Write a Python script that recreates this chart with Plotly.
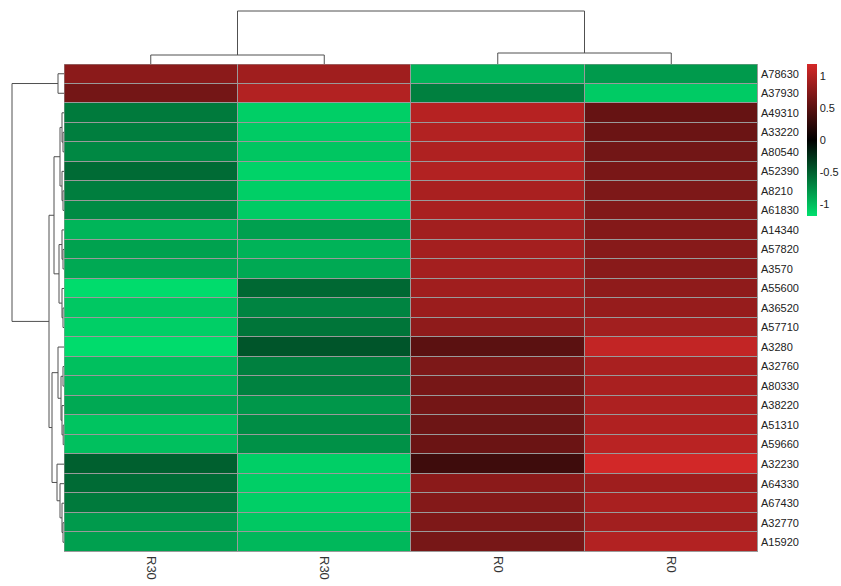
import plotly.graph_objects as go

# ---------------- data ----------------
row_labels = ["A78630", "A37930", "A49310", "A33220", "A80540", "A52390", "A8210",
              "A61830", "A14340", "A57820", "A3570", "A55600", "A36520", "A57710",
              "A3280", "A32760", "A80330", "A38220", "A51310", "A59660", "A32230",
              "A64330", "A67430", "A32770", "A15920"]
col_labels = ["R30", "R30", "R0", "R0"]

r30_a = [0.78, 0.65, -0.65, -0.67, -0.72, -0.57, -0.67, -0.74, -0.96, -0.86, -0.90, -1.17, -1.06,
         -1.10, -1.17, -1.02, -0.98, -0.90, -1.04, -1.02, -0.51, -0.57, -0.65, -0.82, -0.85]
r30_b = [0.90, 1.00, -1.10, -1.08, -1.05, -1.12, -1.10, -1.08, -0.85, -0.95, -0.90, -0.55, -0.70,
         -0.62, -0.45, -0.68, -0.69, -0.80, -0.75, -0.77, -1.10, -1.10, -1.10, -1.06, -0.98]
r0_a = [-0.95, -0.68, 1.02, 1.00, 0.98, 1.00, 0.95, 0.95, 0.91, 0.92, 0.92, 0.90, 0.87,
        0.80, 0.51, 0.70, 0.67, 0.65, 0.61, 0.60, 0.35, 0.78, 0.74, 0.71, 0.67]
r0_b = [-0.82, -1.08, 0.57, 0.60, 0.64, 0.68, 0.70, 0.73, 0.74, 0.76, 0.77, 0.80, 0.84,
        0.91, 1.09, 0.95, 0.95, 0.97, 0.99, 1.04, 1.18, 0.89, 0.95, 0.91, 1.00]

# linkage (left child, right child, height) scipy-style: ids >= n refer to earlier merges
row_linkage = [(0, 1, 6), (3, 4, 1), (2, 26, 2), (6, 7, 1), (5, 28, 2), (27, 29, 4),
               (9, 10, 1), (8, 31, 2), (12, 13, 1), (11, 33, 2), (32, 34, 5), (30, 35, 10),
               (15, 16, 1), (18, 19, 0.8), (17, 38, 2), (37, 39, 3), (14, 40, 6),
               (23, 24, 1), (22, 42, 2), (21, 43, 4), (20, 44, 7), (41, 45, 12),
               (36, 46, 15), (25, 47, 52)]
col_linkage = [(0, 1, 9), (2, 3, 11), (4, 5, 53)]

colorbar_ticks = [-1, -0.5, 0, 0.5, 1]
zlim = 1.19

# ---------------- helpers ----------------
def dendro_segments(linkage, n):
    pos = {i: float(i) for i in range(n)}
    hgt = {i: 0.0 for i in range(n)}
    ps, hs = [], []
    for k, (a, b, h) in enumerate(linkage):
        ps += [pos[a], pos[a], pos[b], pos[b], None]
        hs += [hgt[a], h, h, hgt[b], None]
        pos[n + k] = (pos[a] + pos[b]) / 2
        hgt[n + k] = h
    return ps, hs

z = [[r30_a[i], r30_b[i], r0_a[i], r0_b[i]] for i in range(len(row_labels))]
nrow, ncol = len(row_labels), len(col_labels)

W, H = 841, 586
hx0, hx1 = 64 / W, 758 / W
hy0, hy1 = (H - 552) / H, (H - 64) / H

fig = go.Figure()
fig.add_trace(go.Heatmap(
    z=z, x=list(range(ncol)), y=list(range(nrow)),
    zmin=-zlim, zmax=zlim,
    colorscale=[[0, "rgb(0,224,110)"], [0.5, "rgb(0,0,0)"], [1, "rgb(212,40,40)"]],
    xgap=1, ygap=1,
    colorbar=dict(x=807 / W, xanchor="left", y=hy1, yanchor="top", xpad=0, ypad=0,
                  len=152 / H, lenmode="fraction", thickness=10, thicknessmode="pixels",
                  outlinewidth=0, tickvals=colorbar_ticks,
                  ticktext=[str(t) for t in colorbar_ticks], ticks="",
                  tickfont=dict(family="Liberation Sans, Arial", size=11, color="#222")),
    hoverinfo="skip",
))

rp, rh = dendro_segments(row_linkage, nrow)
fig.add_trace(go.Scatter(x=rh, y=rp, mode="lines", xaxis="x2", yaxis="y",
                         line=dict(color="#505050", width=1), hoverinfo="skip", showlegend=False))
cp, ch = dendro_segments(col_linkage, ncol)
fig.add_trace(go.Scatter(x=cp, y=ch, mode="lines", xaxis="x", yaxis="y2",
                         line=dict(color="#505050", width=1), hoverinfo="skip", showlegend=False))

# grey cell borders: a grey backing under the gapped heatmap plus an outline
fig.add_shape(type="rect", xref="x", yref="y", x0=-0.5, x1=ncol - 0.5, y0=-0.5, y1=nrow - 0.5,
              line=dict(width=0), fillcolor="#9a9a9a", layer="below")
fig.add_shape(type="rect", xref="x", yref="y", x0=-0.5, x1=ncol - 0.5, y0=-0.5, y1=nrow - 0.5,
              line=dict(color="#9a9a9a", width=1), layer="above")

fig.update_layout(
    width=W, height=H, margin=dict(l=0, r=0, t=0, b=0, autoexpand=False),
    paper_bgcolor="white", plot_bgcolor="white", showlegend=False,
    font=dict(family="Liberation Sans, Arial", size=11, color="#222"),
    xaxis=dict(domain=[hx0, hx1], range=[-0.5, ncol - 0.5], tickvals=list(range(ncol)),
               ticktext=col_labels, tickangle=90, showgrid=False, zeroline=False,
               ticks="", tickfont=dict(size=13, color="#333"), anchor="y", automargin=False,
               ticklabelstandoff=3),
    yaxis=dict(domain=[hy0, hy1], range=[nrow - 0.5, -0.5], tickvals=list(range(nrow)),
               ticktext=row_labels, side="right", showgrid=False, zeroline=False,
               ticks="", tickfont=dict(size=11, color="#222"), anchor="x", automargin=False,
               ticklabelstandoff=2),
    xaxis2=dict(domain=[0, hx0], range=[64, 0], visible=False, anchor="y"),
    yaxis2=dict(domain=[hy1, 1], range=[0, 64], visible=False, anchor="x"),
)

fig.write_html("out.html", config={"displayModeBar": False},
               post_script="document.body.style.margin='0';document.body.style.overflow='hidden';")
